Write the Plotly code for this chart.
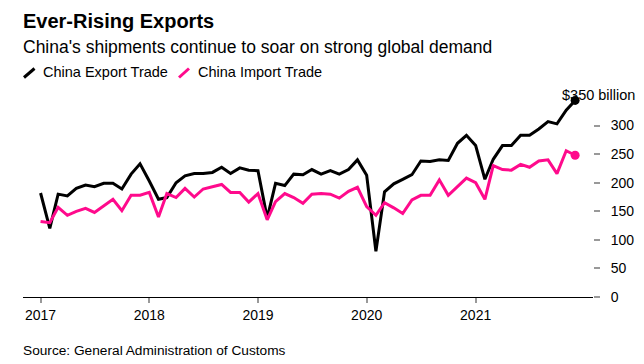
import pandas as pd
import plotly.graph_objects as go

months = pd.date_range("2017-01-01", periods=60, freq="MS")

exports = [
    182, 120, 180, 177, 190, 196, 193, 199, 199, 189, 215, 233,
    203, 171, 174, 200, 212, 216, 216, 218, 227, 216, 226, 222,
    221, 138, 199, 195, 215, 214, 223, 215, 221, 215, 223, 240,
    213, 80, 184, 198, 206, 214, 238, 237, 240, 239, 269, 283,
    265, 206, 241, 265, 265, 283, 283, 294, 307, 303, 327, 344,
]
imports = [
    132, 130, 157, 143, 150, 155, 148, 159, 171, 151, 178, 178,
    183, 140, 181, 174, 190, 175, 189, 193, 197, 183, 183, 166,
    181, 135, 167, 181, 174, 164, 180, 181, 180, 173, 185, 192,
    158, 143, 165, 156, 146, 170, 178, 178, 205, 178, 193, 208,
    200, 171, 230, 223, 222, 232, 227, 238, 240, 216, 256, 248,
]

year_ticks = ["2017-01-01", "2018-01-01", "2019-01-01", "2020-01-01", "2021-01-01"]
year_labels = ["2017", "2018", "2019", "2020", "2021"]
y_ticks = [0, 50, 100, 150, 200, 250, 300]

BLACK = "#000000"
PINK = "#ff0a8c"
FONT = "Liberation Sans, Arial, sans-serif"

fig = go.Figure()
fig.add_trace(go.Scatter(x=months, y=exports, mode="lines",
                         line=dict(color=BLACK, width=3), showlegend=False))
fig.add_trace(go.Scatter(x=months, y=imports, mode="lines",
                         line=dict(color=PINK, width=3), showlegend=False))
fig.add_trace(go.Scatter(x=[months[-1]], y=[exports[-1]], mode="markers",
                         marker=dict(color=BLACK, size=9), cliponaxis=False, showlegend=False))
fig.add_trace(go.Scatter(x=[months[-1]], y=[imports[-1]], mode="markers",
                         marker=dict(color=PINK, size=9), cliponaxis=False, showlegend=False))

# page offset (body margin) in screen pixels
OFF = 8
W, H = 644, 364
# plot area in screen pixels
X0, X1, Y0, Y1 = 23, 593, 97, 297
L, R = X0 - OFF, W - (X1 - OFF)
T, B = Y0 - OFF, H - (Y1 - OFF)
pw, ph = X1 - X0, Y1 - Y0


def px(x):
    return (x - X0) / pw


def py(y):
    return (Y1 - y) / ph


annotations = [
    dict(text="<b>Ever-Rising Exports</b>", x=px(21), y=py(21), font=dict(size=20, color="#000")),
    dict(text="China's shipments continue to soar on strong global demand", x=px(21), y=py(47.5),
         font=dict(size=17.5, color="#000")),
    dict(text="China Export Trade", x=px(41), y=py(72), font=dict(size=14.5, color="#000")),
    dict(text="China Import Trade", x=px(196), y=py(72), font=dict(size=14.5, color="#000")),
    dict(text="Source: General Administration of Customs", x=px(21), y=py(350),
         font=dict(size=13.7, color="#000")),
]
for a in annotations:
    a.update(xref="paper", yref="paper", xanchor="left", yanchor="middle", showarrow=False)
annotations.append(dict(text="$350 billion", xref="paper", yref="paper", x=px(637), y=py(95),
                        xanchor="right", yanchor="middle", showarrow=False,
                        font=dict(size=14.5, color="#000")))

shapes = [
    dict(type="line", xref="paper", yref="paper", x0=px(24), y0=py(77.5), x1=px(34.5), y1=py(68.5),
         line=dict(color=BLACK, width=3)),
    dict(type="line", xref="paper", yref="paper", x0=px(179), y0=py(77.5), x1=px(189), y1=py(68.5),
         line=dict(color=PINK, width=3)),
]

fig.update_layout(
    width=W, height=H,
    margin=dict(l=L, r=R, t=T, b=B, pad=0),
    paper_bgcolor="white", plot_bgcolor="white",
    font=dict(family=FONT, color="#000"),
    annotations=annotations, shapes=shapes,
    xaxis=dict(type="date", range=["2016-11-03", "2022-01-30"],
               tickvals=year_ticks, ticktext=year_labels,
               ticks="outside", ticklen=5, tickwidth=2, tickcolor="#999",
               showline=True, linecolor="#000", linewidth=1,
               showgrid=False, zeroline=False, tickfont=dict(size=14, color="#000")),
    yaxis=dict(range=[0, 350], side="right", tickvals=y_ticks,
               ticks="outside", ticklen=6, tickwidth=2, tickcolor="#999",
               ticklabelstandoff=8,
               showline=False, showgrid=False, zeroline=False,
               tickfont=dict(size=14, color="#000")),
)

fig.write_html("out.html")
